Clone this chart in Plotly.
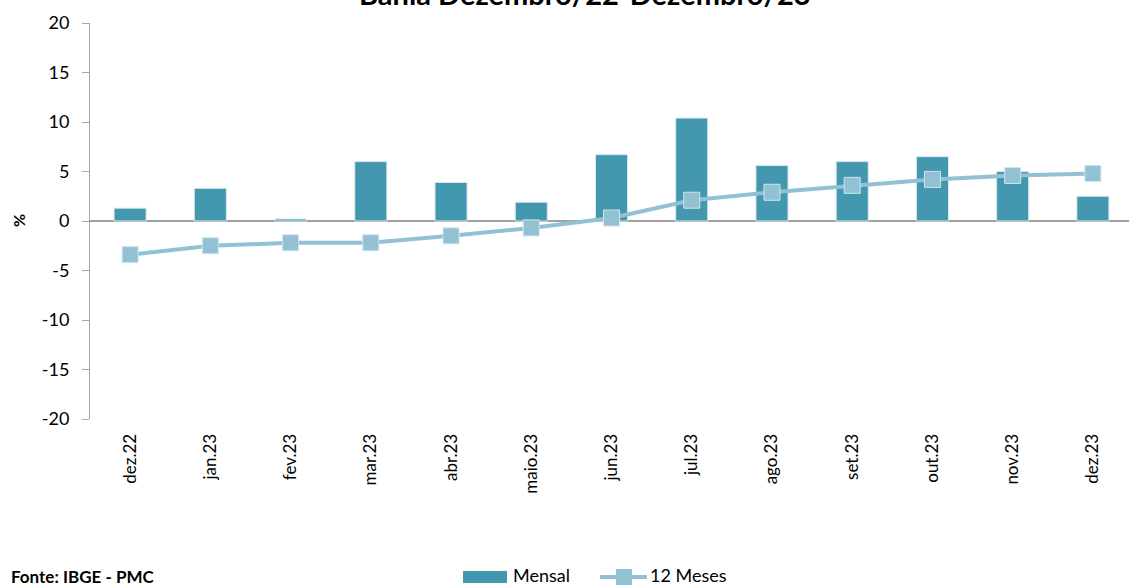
import plotly.graph_objects as go

categories = ["dez.22", "jan.23", "fev.23", "mar.23", "abr.23", "maio.23", "jun.23",
              "jul.23", "ago.23", "set.23", "out.23", "nov.23", "dez.23"]
mensal = [1.3, 3.3, 0.2, 6.0, 3.9, 1.9, 6.7, 10.4, 5.6, 6.0, 6.5, 5.0, 2.5]
doze_meses = [-3.4, -2.5, -2.2, -2.2, -1.5, -0.7, 0.3, 2.1, 2.9, 3.6, 4.2, 4.6, 4.8]
y_ticks = [-20, -15, -10, -5, 0, 5, 10, 15, 20]
y_tick_labels = ["-20", "-15", "-10", "-5", "0", "5", "10", "15", "20"]

BAR = "#4398B0"
LINE = "#92C1D4"
FONT = "Lato, 'Open Sans', sans-serif"

W, H = 1129, 586
L, R, T, B = 90, 0, 23, 167
PW, PH = W - L - R, H - T - B

def px_x(p):
    return (p - L) / PW

def px_y(p):
    return (H - B - p) / PH

x_idx = list(range(len(categories)))

fig = go.Figure()
fig.add_trace(go.Bar(
    x=x_idx, y=mensal, name="Mensal", width=0.4,
    marker=dict(color=BAR, line=dict(color="#d8ebf1", width=1)),
    showlegend=False,
))
fig.add_trace(go.Scatter(
    x=x_idx, y=doze_meses, name="12 Meses", mode="lines+markers",
    line=dict(color=LINE, width=4),
    marker=dict(symbol="square", size=16, color=LINE, line=dict(color="#cfe4ec", width=1)),
    showlegend=False,
))

# Manual legend
shapes = [
    dict(type="rect", xref="paper", yref="paper",
         x0=px_x(463), x1=px_x(507), y0=px_y(583), y1=px_y(571),
         fillcolor=BAR, line=dict(width=0)),
    dict(type="line", xref="paper", yref="paper",
         x0=px_x(600), x1=px_x(647), y0=px_y(577), y1=px_y(577),
         line=dict(color=LINE, width=4)),
    dict(type="rect", xref="paper", yref="paper",
         x0=px_x(616), x1=px_x(632), y0=px_y(585), y1=px_y(569),
         fillcolor=LINE, line=dict(width=0)),
]

annotations = [
    dict(text="<b>Bahia Dezembro/22-Dezembro/23</b>", xref="paper", yref="paper",
         x=px_x(585), y=px_y(-6), xanchor="center", yanchor="middle",
         showarrow=False, font=dict(family=FONT, size=29, color="black")),
    dict(text="<b>%</b>", xref="paper", yref="paper", x=px_x(18), y=px_y(221),
         xanchor="center", yanchor="middle", textangle=-90, showarrow=False,
         font=dict(family=FONT, size=16, color="black")),
    dict(text="<b>Fonte: IBGE - PMC</b>", xref="paper", yref="paper",
         x=px_x(9), y=px_y(576), xanchor="left", yanchor="middle", showarrow=False,
         font=dict(family=FONT, size=17, color="black")),
    dict(text="Mensal", xref="paper", yref="paper", x=px_x(511), y=px_y(575),
         xanchor="left", yanchor="middle", showarrow=False,
         font=dict(family=FONT, size=18, color="black")),
    dict(text="12 Meses", xref="paper", yref="paper", x=px_x(648), y=px_y(575),
         xanchor="left", yanchor="middle", showarrow=False,
         font=dict(family=FONT, size=18, color="black")),
]

fig.update_layout(
    width=W, height=H,
    margin=dict(l=L, r=R, t=T, b=B, pad=0),
    plot_bgcolor="white", paper_bgcolor="white",
    showlegend=False,
    shapes=shapes,
    annotations=annotations,
    font=dict(family=FONT, color="black"),
)
fig.update_xaxes(
    range=[-0.5, 12.45],
    tickmode="array", tickvals=x_idx, ticktext=categories,
    tickangle=-90, tickfont=dict(family=FONT, size=17, color="black"),
    ticks="outside", ticklen=7, tickcolor="rgba(0,0,0,0)",
    showline=False, showgrid=False, zeroline=False,
)
fig.update_yaxes(
    range=[-20, 20], tickmode="array", tickvals=y_ticks, ticktext=y_tick_labels,
    tickfont=dict(family=FONT, size=18, color="black"),
    ticks="outside", ticklen=7, tickcolor="#A6A6A6", tickwidth=1,
    ticklabelstandoff=9,
    showline=True, linecolor="#A6A6A6", linewidth=1,
    showgrid=False, zeroline=True, zerolinecolor="#A0A0A0", zerolinewidth=2,
)

fig.write_html("out.html")
